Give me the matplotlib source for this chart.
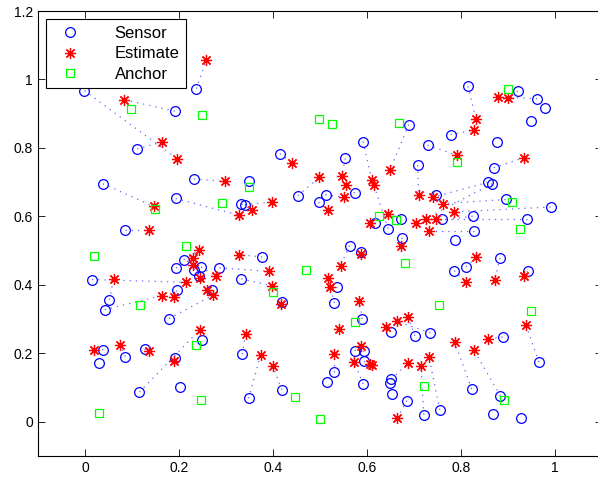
import numpy as np
import matplotlib.pyplot as plt

plt.rcParams['font.family'] = ['Liberation Sans', 'DejaVu Sans']

nan = np.nan

# true sensor positions
sensor_x = [-0.001, 0.191, 0.237, 0.111, 0.038, 0.232, 0.193, 0.086, 0.592, 0.415,
            0.554, 0.349, 0.574, 0.512, 0.497, 0.453, 0.333, 0.340, 0.673, 0.618,
            0.645, 0.689, 0.815, 0.921, 0.962, 0.980, 0.950, 0.778, 0.876, 0.729,
            0.708, 0.870, 0.857, 0.866, 0.748, 0.895, 0.991, 0.825, 0.940, 0.760,
            0.827, 0.210, 0.194, 0.247, 0.233, 0.242, 0.286, 0.015, 0.196, 0.271,
            0.052, 0.042, 0.179, 0.249, 0.675, 0.563, 0.588, 0.377, 0.333, 0.536,
            0.419, 0.531, 0.590, 0.651, 0.787, 0.883, 0.786, 0.811, 0.942, 0.702,
            0.735, 0.889, 0.039, 0.029, 0.086, 0.127, 0.192, 0.116, 0.203, 0.335,
            0.348, 0.419, 0.530, 0.515, 0.574, 0.593, 0.594, 0.592, 0.652, 0.650,
            0.653, 0.685, 0.966, 0.721, 0.755, 0.823, 0.884, 0.869, 0.927, nan]
sensor_y = [0.967, 0.907, 0.973, 0.797, 0.695, 0.709, 0.652, 0.561, 0.818, 0.783,
            0.769, 0.702, 0.668, 0.663, 0.641, 0.660, 0.636, 0.634, 0.593, 0.580,
            0.564, 0.868, 0.980, 0.966, 0.944, 0.917, 0.878, 0.839, 0.817, 0.808,
            0.749, 0.742, 0.699, 0.695, 0.663, 0.649, 0.627, 0.600, 0.593, 0.592,
            0.556, 0.473, 0.449, 0.452, 0.444, 0.424, 0.449, 0.415, 0.383, 0.383,
            0.356, 0.327, 0.301, 0.239, 0.537, 0.514, 0.495, 0.481, 0.417, 0.393,
            0.348, 0.347, 0.300, 0.263, 0.530, 0.478, 0.441, 0.452, 0.439, 0.251,
            0.259, 0.247, 0.210, 0.171, 0.190, 0.212, 0.185, 0.086, 0.102, 0.197,
            0.068, 0.093, 0.146, 0.115, 0.207, 0.207, 0.176, 0.110, 0.124, 0.112,
            0.080, 0.061, 0.174, 0.020, 0.034, 0.095, 0.075, 0.023, 0.010, nan]

# estimated positions (same order as the sensors)
est_x = [0.196, 0.083, 0.258, 0.164, 0.146, 0.297, 0.328, 0.137, 0.610, 0.440,
         0.547, nan, 0.556, 0.551, 0.517, 0.499, 0.355, 0.398, 0.645, 0.606,
         0.615, 0.649, 0.832, 0.901, 0.879, nan, nan, 0.827, nan, 0.792,
         0.710, 0.934, 0.741, 0.725, nan, 0.761, 0.786, 0.704, 0.748, nan,
         0.732, 0.242, 0.230, 0.279, 0.230, 0.244, 0.392, 0.214, 0.189, 0.260,
         0.061, 0.164, 0.272, nan, 0.672, 0.544, 0.588, 0.328, 0.397, 0.522,
         0.418, 0.517, 0.584, 0.640, nan, 0.872, 0.810, 0.833, 0.934, 0.688,
         0.663, 0.858, 0.019, nan, 0.075, 0.136, 0.189, 0.244, nan, 0.342,
         0.374, 0.400, 0.530, nan, 0.588, 0.607, 0.610, 0.573, 0.688, nan,
         nan, 0.665, 0.938, 0.715, 0.732, 0.787, 0.828, nan, nan, 0.541]
est_y = [0.768, 0.941, 1.056, 0.817, 0.629, 0.702, 0.603, 0.561, 0.707, 0.756,
         0.719, nan, 0.690, 0.656, 0.618, 0.715, 0.618, 0.641, 0.608, 0.579,
         0.691, 0.734, 0.885, 0.946, 0.949, nan, nan, 0.851, nan, 0.778,
         0.663, 0.771, 0.656, 0.593, nan, 0.637, 0.613, 0.579, 0.593, nan,
         0.556, 0.500, 0.478, 0.424, 0.457, 0.420, 0.439, 0.407, 0.363, 0.385,
         0.418, 0.368, 0.369, nan, 0.512, 0.456, 0.491, 0.488, 0.397, 0.393,
         0.344, 0.420, 0.353, 0.276, nan, 0.415, 0.408, 0.481, 0.424, 0.306,
         0.293, 0.242, 0.208, nan, 0.224, 0.205, 0.176, 0.268, nan, 0.257,
         0.195, 0.161, 0.197, nan, 0.220, 0.169, 0.166, 0.173, 0.171, nan,
         nan, 0.010, 0.283, 0.163, 0.190, 0.231, 0.208, nan, nan, 0.271]

anchor_x = [0.097, 0.249, 0.149, 0.291, 0.498, 0.526, 0.668, 0.901, 0.350, 0.625,
            0.661, 0.791, 0.908, 0.925, 0.020, 0.214, 0.118, 0.237, 0.681, 0.470,
            0.401, 0.574, 0.753, 0.949, 0.029, 0.247, 0.446, 0.501, 0.721, 0.892]
anchor_y = [0.914, 0.896, 0.620, 0.639, 0.883, 0.870, 0.873, 0.973, 0.686, 0.602,
            0.590, 0.758, 0.642, 0.564, 0.483, 0.512, 0.340, 0.224, 0.464, 0.444,
            0.378, 0.290, 0.341, 0.322, 0.025, 0.064, 0.073, 0.008, 0.105, 0.064]

fig = plt.figure(figsize=(5.98, 4.83), dpi=100)
ax = fig.add_axes([0.0635, 0.0565, 0.943, 0.9207])

# dotted link from each sensor to its estimate
for sx, sy, ex, ey in zip(sensor_x, sensor_y, est_x, est_y):
    ax.plot([sx, ex], [sy, ey], linestyle=(0, (1, 4)), color=(0.4, 0.4, 1.0), lw=0.9)

ax.plot(sensor_x, sensor_y, 'o', mfc='none', mec='b', ms=7, mew=0.9, label='Sensor')
ax.plot(est_x, est_y, linestyle='none', marker=(8, 2, 0), color='r', ms=8, mew=0.9,
        label='Estimate')
ax.plot(anchor_x, anchor_y, 's', mfc='none', mec=(0, 1, 0), ms=6, mew=0.9, label='Anchor')

ax.set_xlim(-0.1, 1.1)
ax.set_ylim(-0.1, 1.2)
xt = [0, 0.2, 0.4, 0.6, 0.8, 1]
yt = [0, 0.2, 0.4, 0.6, 0.8, 1, 1.2]
ax.set_xticks(xt)
ax.set_xticklabels(['0', '0.2', '0.4', '0.6', '0.8', '1'])
ax.set_yticks(yt)
ax.set_yticklabels(['0', '0.2', '0.4', '0.6', '0.8', '1', '1.2'])
ax.tick_params(direction='in', top=True, right=True, length=5, width=0.6, labelsize=10)
for s in ax.spines.values():
    s.set_linewidth(0.8)

leg = ax.legend(loc='upper left', fontsize=12, fancybox=False, framealpha=1,
                edgecolor='k', borderaxespad=0.5, handlelength=2.0, handletextpad=1.7,
                labelspacing=0.32, borderpad=0.4)
leg.get_frame().set_linewidth(0.8)

fig.savefig('out.png', dpi=100)
